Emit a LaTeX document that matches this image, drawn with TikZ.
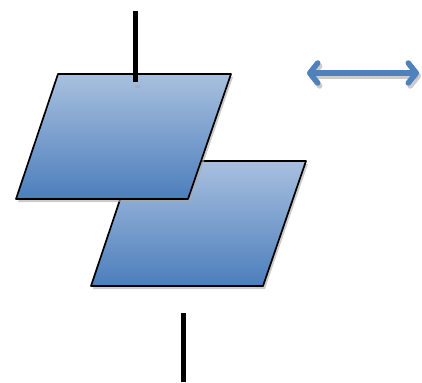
\documentclass[tikz,border=0pt]{standalone}
\usetikzlibrary{arrows.meta}
\definecolor{boxtop}{RGB}{168,192,223}
\definecolor{boxbot}{RGB}{76,126,188}
\definecolor{arrowblue}{RGB}{79,129,189}
\definecolor{shadowgray}{RGB}{170,170,170}
\begin{document}
\begin{tikzpicture}[x=1pt, y=-1pt, line join=round, line cap=round, >={Straight Barb[length=8pt,width=20pt,round]}]
	\useasboundingbox (0,0) rectangle (422,382);
	\tikzset{
		slab/.style={draw=black, line width=1.7pt, top color=boxtop, bottom color=boxbot},
		dropshadow/.style={shadowgray, opacity=0.6, transform canvas={xshift=2pt, yshift=-3pt}},
		stem/.style={line width=5pt, line cap=butt}
	}
	\path
	(58,74) coordinate (A)
	(231,74) coordinate (B)
	(188,199) coordinate (C)
	(16,199) coordinate (D);
	\foreach \x in {A,B,C,D}
	\path (\x)+(75,87) coordinate (\x');
	\path (135,11) coordinate (T1) (135,82) coordinate (T2)
	(183,313) coordinate (U1) (183,382) coordinate (U2)
	(307,73) coordinate (L) (419,73) coordinate (R);
	% lower slab
	\fill[dropshadow] (A')--(B')--(C')--(D')--cycle;
	\path[slab] (A')--(B')--(C')--(D')--cycle;
	% upper slab
	\fill[dropshadow] (A)--(B)--(C)--(D)--cycle;
	\path[slab] (A)--(B)--(C)--(D)--cycle;
	\draw[stem, dropshadow] ([yshift=-3pt]T2)--(T2);
	\draw[stem] (T1)--(T2) (U1)--(U2);
	% double arrow
	\draw[<->, line width=5.5pt, dropshadow] (L)--(R);
	\draw[<->, line width=5.5pt, arrowblue] (L)--(R);
\end{tikzpicture}
\end{document}
